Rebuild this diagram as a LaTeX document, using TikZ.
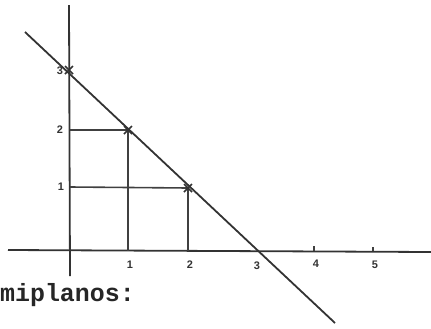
\documentclass[tikz,border=0pt]{standalone}
\usepackage{fontspec}
\setmonofont{Liberation Mono}
\newfontfamily\lblfont{Liberation Sans}
\begin{document}
\begin{tikzpicture}[x=1bp,y=-1bp,
  axisline/.style={line width=1.8bp,draw=black!80},
  guideline/.style={line width=1.6bp,draw=black!75},
  lbl/.style={font=\lblfont\bfseries\fontsize{11}{11}\selectfont,text=black!80,inner sep=0pt},
  crossmark/.style={line width=1.5bp,draw=black!80}]
\useasboundingbox (0,0) rectangle (431,329);
% key points
\coordinate (O) at (70,251);
\coordinate (xl) at (8,250);
\coordinate (xr) at (431,252);
\coordinate (yt) at (69,5);
\coordinate (yb) at (70,276);
\coordinate (P3) at (69,70);
\coordinate (P2) at (128,130);
\coordinate (P1) at (188,188);
\coordinate (X1) at (128,251);
\coordinate (X2) at (188,251);
\coordinate (Y2) at (70,130);
\coordinate (Y1) at (70,187);
\coordinate (dl) at (25,32);
\coordinate (dr) at (335,323);
\coordinate (T4) at (314,251);
\coordinate (T5) at (373,251);
% axes
\draw[axisline] (xl) -- (xr);
\draw[axisline] (yt) -- (yb);
% diagonal
\draw[axisline] (dl) -- (dr);
% guide lines
\draw[guideline] (Y2) -- (P2) -- (X1);
\draw[guideline] (Y1) -- (P1) -- (X2);
% ticks
\draw[guideline] (T4) -- ++(0,-5);
\draw[guideline] (T5) -- ++(0,-4);
% cross marks
\foreach \p in {P3,P2,P1}{
  \draw[crossmark] (\p) ++(-4,-4) -- ++(8,8);
  \draw[crossmark] (\p) ++(-4,4) -- ++(8,-8);
}
% labels
\node[lbl] (ly3) at (60,71) {3};
\node[lbl] (ly2) at (60,130) {2};
\node[lbl] (ly1) at (61,187) {1};
\node[lbl] (lx1) at (130,265) {1};
\node[lbl] (lx2) at (190,265) {2};
\node[lbl] (lx3) at (257,266) {3};
\node[lbl] (lx4) at (316,264) {4};
\node[lbl] (lx5) at (375,265) {5};
\node[anchor=base west,inner sep=0pt,font=\ttfamily\bfseries\fontsize{25}{25}\selectfont,text=black!85] (txt) at (0,301) {miplanos:};
\end{tikzpicture}
\end{document}
